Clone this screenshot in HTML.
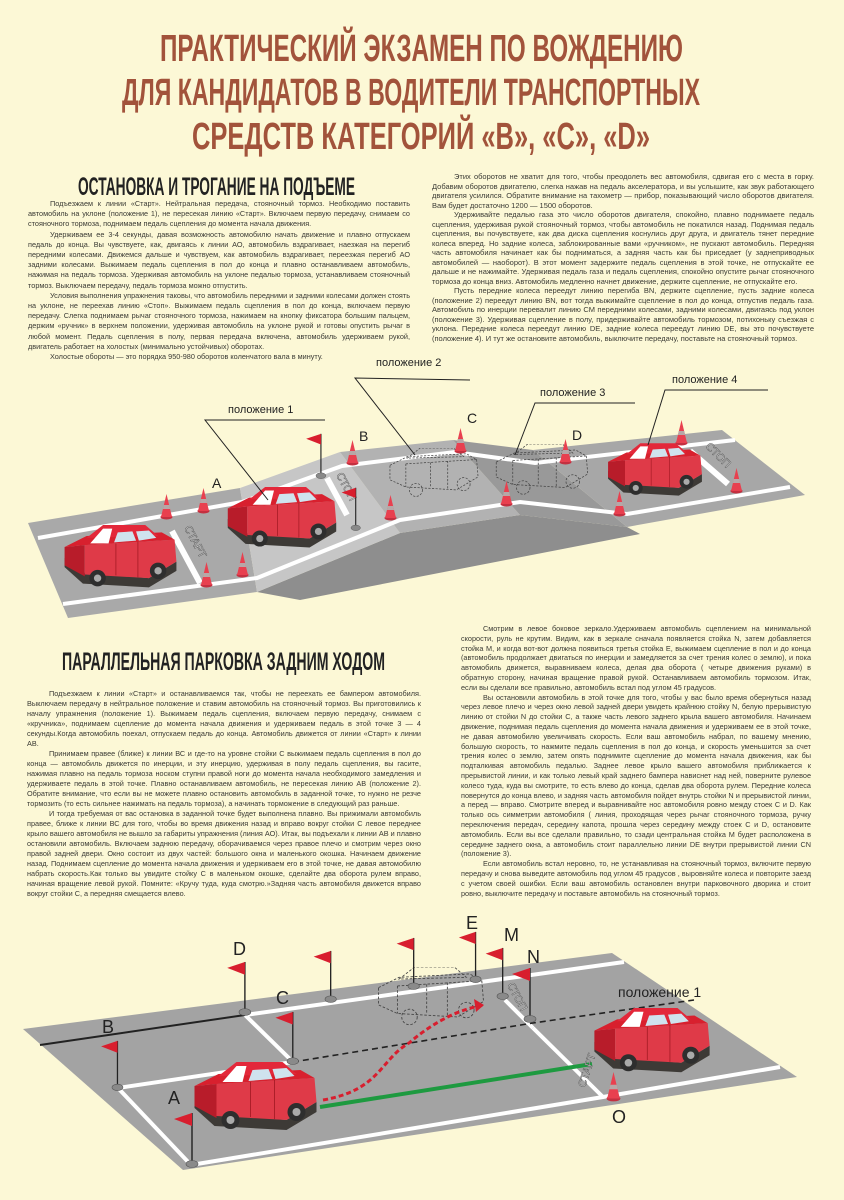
<!DOCTYPE html>
<html><head><meta charset="utf-8">
<style>
html,body{margin:0;padding:0;}
body{width:844px;height:1200px;background:#fcf8d6;position:relative;overflow:hidden;font-family:"Liberation Sans Narrow","Liberation Sans",sans-serif;color:#3a3a34;}
.t{position:absolute;font-size:7.3px;line-height:9.2px;text-align:justify;}
.t p{margin:0;text-indent:22px;}
svg{position:absolute;left:0;top:0;}
</style></head><body>
<svg width="844" height="1200" viewBox="0 0 844 1200">
<defs>
<symbol id="car" viewBox="0 0 130 72">
<polygon points="4,36 24,52 96,58 126,40 126,50 96,68 24,64 4,46" fill="#3d3a36"/>
<polygon points="4,24 26,22 26,56 4,44" fill="#b81c2a"/>
<polygon points="26,22 124,16 126,40 96,58 26,54" fill="#df3a48"/>
<polygon points="4,24 28,12 110,8 124,16 26,22" fill="#d8202e"/>
<polygon points="28,14 46,0 92,0 106,12" fill="#e3283a"/>
<polygon points="32,20 46,4 56,4 52,20" fill="#fff"/>
<polygon points="58,19 62,8 78,7 82,17" fill="#cfe3ee"/>
<polygon points="85,17 82,7 96,6 104,14" fill="#cfe3ee"/>
<line x1="60" y1="20" x2="60" y2="55" stroke="#a01822" stroke-width="0.8"/>
<line x1="84" y1="18" x2="84" y2="57" stroke="#a01822" stroke-width="0.8"/>
<circle cx="40" cy="58" r="9" fill="#2e2e2e"/><circle cx="40" cy="58" r="4" fill="#aaa"/>
<circle cx="106" cy="50" r="9" fill="#2e2e2e"/><circle cx="106" cy="50" r="4" fill="#aaa"/>
</symbol>
<symbol id="ghost" viewBox="0 0 130 72">
<g fill="none" stroke="#444" stroke-width="1" stroke-dasharray="3,2">
<polygon points="4,24 28,12 110,8 124,16 126,40 96,58 26,54 4,44"/>
<polygon points="28,14 46,0 92,0 106,12"/>
<line x1="26" y1="22" x2="124" y2="16"/><line x1="26" y1="22" x2="26" y2="54"/>
<line x1="60" y1="20" x2="60" y2="55"/><line x1="84" y1="18" x2="84" y2="57"/>
<circle cx="40" cy="58" r="9"/><circle cx="106" cy="50" r="9"/>
</g></symbol>
<symbol id="cone" viewBox="0 0 12 26">
<ellipse cx="6" cy="23" rx="6" ry="2.5" fill="#c43040"/>
<polygon points="6,0 11.5,23 0.5,23" fill="#e8404f"/>
<polygon points="3.2,11 8.8,11 9.6,15 2.4,15" fill="#b7a7a7"/>
</symbol>
<symbol id="flag" viewBox="0 0 26 56">
<line x1="19" y1="1" x2="19" y2="52" stroke="#222" stroke-width="1.4"/>
<polygon points="19,1 1,7 19,14" fill="#d81e2e"/>
<ellipse cx="19" cy="52" rx="6" ry="3.5" fill="#8a8a8a" stroke="#555" stroke-width="0.6"/>
</symbol>
</defs>

<!-- title -->
<g fill="#a2533b" font-family="Liberation Sans Narrow, Liberation Sans, sans-serif" font-size="38" font-weight="bold">
<text x="160" y="61" textLength="523" lengthAdjust="spacingAndGlyphs">ПРАКТИЧЕСКИЙ ЭКЗАМЕН ПО ВОЖДЕНИЮ</text>
<text x="122" y="105" textLength="578" lengthAdjust="spacingAndGlyphs">ДЛЯ КАНДИДАТОВ В ВОДИТЕЛИ ТРАНСПОРТНЫХ</text>
<text x="192" y="149" textLength="458" lengthAdjust="spacingAndGlyphs">СРЕДСТВ КАТЕГОРИЙ «B», «C», «D»</text>
</g>
<g fill="#222" font-family="Liberation Sans Narrow, Liberation Sans, sans-serif" font-size="25" font-weight="bold">
<text x="78" y="195" textLength="277" lengthAdjust="spacingAndGlyphs">ОСТАНОВКА И ТРОГАНИЕ НА ПОДЪЕМЕ</text>
<text x="62" y="670" textLength="323" lengthAdjust="spacingAndGlyphs">ПАРАЛЛЕЛЬНАЯ ПАРКОВКА ЗАДНИМ ХОДОМ</text>
</g>

<!-- top diagram -->
<polygon points="257,592 400,533 520,515 627,527 640,534 300,600" fill="#8e8e8e"/>
<polygon points="28,523 240,488 257,592 68,618" fill="#a9a9a9"/>
<polygon points="240,488 340,452 400,533 257,592" fill="#c6c6c6"/>
<polygon points="340,452 453,440 520,515 400,533" fill="#b2b2b2"/>
<polygon points="453,440 533,450 627,527 520,515" fill="#999"/>
<polygon points="533,450 722,430 805,495 627,527" fill="#a7a7a7"/>
<g fill="none" stroke="#fff" stroke-width="4">
<polyline points="38,538 242,502 342,466 455,452 535,463 735,440"/>
<polyline points="63,604 257,578 400,520 520,502 627,514 790,487"/>
</g>
<line x1="172" y1="531" x2="200" y2="583" stroke="#fff" stroke-width="6"/>
<line x1="327" y1="478" x2="347" y2="515" stroke="#fff" stroke-width="6"/>
<line x1="690" y1="451" x2="728" y2="484" stroke="#fff" stroke-width="6"/>
<g font-family="Liberation Sans, sans-serif" font-size="11" fill="#eee" stroke="#555" stroke-width="0.5">
<text transform="translate(184,528) rotate(62)">СТАРТ</text>
<text transform="translate(336,475) rotate(62)">СТОП</text>
<text transform="translate(705,447) rotate(45)">СТОП</text>
</g>
<use href="#ghost" x="380" y="448" width="108" height="52"/>
<use href="#ghost" x="493" y="444" width="98" height="54"/>
<use href="#car" x="58" y="525" width="125" height="66"/>
<use href="#car" x="220" y="487" width="124" height="64"/>
<use href="#car" x="605" y="443" width="100" height="56"/>
<use href="#cone" x="160" y="494" width="13" height="26"/>
<use href="#cone" x="197" y="488" width="13" height="26"/>
<use href="#cone" x="200" y="562" width="13" height="26"/>
<use href="#cone" x="236" y="552" width="13" height="26"/>
<use href="#cone" x="346" y="440" width="13" height="26"/>
<use href="#cone" x="384" y="495" width="13" height="26"/>
<use href="#cone" x="454" y="428" width="13" height="26"/>
<use href="#cone" x="500" y="481" width="13" height="26"/>
<use href="#cone" x="559" y="439" width="13" height="26"/>
<use href="#cone" x="613" y="491" width="13" height="26"/>
<use href="#cone" x="675" y="420" width="13" height="26"/>
<use href="#cone" x="730" y="468" width="13" height="26"/>
<use href="#flag" x="303" y="433" width="26" height="46"/>
<use href="#flag" x="338" y="487" width="26" height="44"/>
<g stroke="#222" stroke-width="1" fill="none">
<polyline points="325,420 205,420 268,500"/>
<polyline points="470,380 355,378 415,455"/>
<polyline points="635,403 535,403 515,455"/>
<polyline points="768,390 665,390 648,445"/>
</g>
<g font-family="Liberation Sans Narrow, Liberation Sans, sans-serif" font-size="11" fill="#222">
<text x="228" y="413">положение 1</text>
<text x="376" y="366">положение 2</text>
<text x="540" y="396">положение 3</text>
<text x="672" y="383">положение 4</text>
</g>
<g font-family="Liberation Sans, sans-serif" font-size="14" fill="#222">
<text x="212" y="488">A</text><text x="359" y="441">B</text><text x="467" y="423">C</text><text x="572" y="440">D</text>
</g>

<!-- bottom diagram -->
<polygon points="23,1029 612,953 797,1077 183,1170" fill="#a3a3a3"/>
<g stroke="#fff" stroke-width="4" fill="none">
<line x1="245" y1="1015" x2="624" y2="962"/>
<polyline points="293,1062 118,1088 191,1165 603,1097 780,1067"/>
<line x1="245" y1="1015" x2="293" y2="1062"/>
<line x1="533" y1="1028" x2="603" y2="1097"/>
<line x1="505" y1="1000" x2="533" y2="1028"/>
</g>
<line x1="40" y1="1045" x2="245" y2="1015" stroke="#222" stroke-width="2"/>
<polyline points="293,1062 533,1023 694,1000" fill="none" stroke="#222" stroke-width="1.6" stroke-dasharray="6,4"/>
<line x1="320" y1="1107" x2="592" y2="1064" stroke="#1e9a40" stroke-width="4"/>
<g font-family="Liberation Sans, sans-serif" font-size="11" fill="#eee" stroke="#555" stroke-width="0.5">
<text transform="translate(585,1088) rotate(-72)">СТАРТ</text>
<text transform="translate(507,985) rotate(62)">СТОП</text>
</g>
<use href="#ghost" x="371" y="967" width="120" height="62"/>
<path d="M323,1100 C380,1090 380,1060 409,1043 C430,1025 455,1010 484,1005" fill="none" stroke="#d81e2e" stroke-width="3" stroke-dasharray="5,3"/>
<polygon points="484,1005 474,999 476,1012" fill="#d81e2e"/>
<use href="#car" x="188" y="1062" width="135" height="72"/>
<use href="#car" x="587" y="1008" width="130" height="68"/>
<use href="#cone" x="606" y="1072" width="15" height="30"/>
<use href="#flag" x="173" y="1112" width="26" height="56"/>
<use href="#flag" x="99" y="1040" width="26" height="51"/>
<use href="#flag" x="226" y="961" width="26" height="55"/>
<use href="#flag" x="274" y="1011" width="26" height="54"/>
<use href="#flag" x="312" y="950" width="26" height="53"/>
<use href="#flag" x="395" y="937" width="26" height="53"/>
<use href="#flag" x="457" y="931" width="26" height="52"/>
<use href="#flag" x="484" y="947" width="26" height="53"/>
<use href="#flag" x="511" y="967" width="26" height="56"/>
<g font-family="Liberation Sans, sans-serif" font-size="18" fill="#222">
<text x="233" y="955">D</text><text x="276" y="1004">C</text><text x="102" y="1033">B</text>
<text x="168" y="1104">A</text><text x="466" y="929">E</text><text x="504" y="941">M</text>
<text x="527" y="963">N</text><text x="612" y="1123">O</text>
</g>
<text x="618" y="997" font-family="Liberation Sans Narrow, Liberation Sans, sans-serif" font-size="14" fill="#222">положение 1</text>
</svg>

<div class="t" style="left:28px;top:199px;width:382px;line-height:10.2px;">
<p>Подъезжаем к линии «Старт». Нейтральная передача, стояночный тормоз. Необходимо поставить автомобиль на уклоне (положение 1), не пересекая линию «Старт». Включаем первую передачу, снимаем со стояночного тормоза, поднимаем педаль сцепления до момента начала движения.</p>
<p>Удерживаем ее 3-4 секунды, давая возможность автомобилю начать движение и плавно отпускаем педаль до конца. Вы чувствуете, как, двигаясь к линии АО, автомобиль вздрагивает, наезжая на перегиб передними колесами. Движемся дальше и чувствуем, как автомобиль вздрагивает, переезжая перегиб АО задними колесами. Выжимаем педаль сцепления в пол до конца и плавно останавливаем автомобиль, нажимая на педаль тормоза. Удерживая автомобиль на уклоне педалью тормоза, устанавливаем стояночный тормоз. Выключаем передачу, педаль тормоза можно отпустить.</p>
<p>Условия выполнения упражнения таковы, что автомобиль передними и задними колесами должен стоять на уклоне, не переехав линию «Стоп». Выжимаем педаль сцепления в пол до конца, включаем первую передачу. Слегка поднимаем рычаг стояночного тормоза, нажимаем на кнопку фиксатора большим пальцем, держим «ручник» в верхнем положении, удерживая автомобиль на уклоне рукой и готовы опустить рычаг в любой момент. Педаль сцепления в полу, первая передача включена, автомобиль удерживаем рукой, двигатель работает на холостых (минимально устойчивых) оборотах.</p>
<p>Холостые обороты — это порядка 950-980 оборотов коленчатого вала в минуту.</p>
</div>

<div class="t" style="left:432px;top:172px;width:382px;font-size:7.5px;line-height:9.5px;">
<p>Этих оборотов не хватит для того, чтобы преодолеть вес автомобиля, сдвигая его с места в горку. Добавим оборотов двигателю, слегка нажав на педаль акселератора, и вы услышите, как звук работающего двигателя усилился. Обратите внимание на тахометр — прибор, показывающий число оборотов двигателя. Вам будет достаточно 1200 — 1500 оборотов.</p>
<p>Удерживайте педалью газа это число оборотов двигателя, спокойно, плавно поднимаете педаль сцепления, удерживая рукой стояночный тормоз, чтобы автомобиль не покатился назад. Поднимая педаль сцепления, вы почувствуете, как два диска сцепления коснулись друг друга, и двигатель тянет передние колеса вперед. Но задние колеса, заблокированные вами «ручником», не пускают автомобиль. Передняя часть автомобиля начинает как бы подниматься, а задняя часть как бы приседает (у заднеприводных автомобилей — наоборот). В этот момент задержите педаль сцепления в этой точке, не отпускайте ее дальше и не нажимайте. Удерживая педаль газа и педаль сцепления, спокойно опустите рычаг стояночного тормоза до конца вниз. Автомобиль медленно начнет движение, держите сцепление, не отпускайте его.</p>
<p>Пусть передние колеса переедут линию перегиба BN, держите сцепление, пусть задние колеса (положение 2) переедут линию BN, вот тогда выжимайте сцепление в пол до конца, отпустив педаль газа. Автомобиль по инерции перевалит линию CM передними колесами, задними колесами, двигаясь под уклон (положение 3). Удерживая сцепление в полу, придерживайте автомобиль тормозом, потихоньку съезжая с уклона. Передние колеса переедут линию DE, задние колеса переедут линию DE, вы это почувствуете (положение 4). И тут же остановите автомобиль, выключите передачу, поставьте на стояночный тормоз.</p>
</div>

<div class="t" style="left:27px;top:689px;width:394px;line-height:10px;">
<p>Подъезжаем к линии «Старт» и останавливаемся так, чтобы не переехать ее бампером автомобиля. Выключаем передачу в нейтральное положение и ставим автомобиль на стояночный тормоз. Вы приготовились к началу упражнения (положение 1). Выжимаем педаль сцепления, включаем первую передачу, снимаем с «кручника», поднимаем сцепление до момента начала движения и удерживаем педаль в этой точке 3 — 4 секунды.Когда автомобиль поехал, отпускаем педаль до конца. Автомобиль движется от линии «Старт» к линии АВ.</p>
<p>Принимаем правее (ближе) к линии ВС и где-то на уровне стойки С выжимаем педаль сцепления в пол до конца — автомобиль движется по инерции, и эту инерцию, удерживая в полу педаль сцепления, вы гасите, нажимая плавно на педаль тормоза носком ступни правой ноги до момента начала необходимого замедления и удерживаете педаль в этой точке. Плавно останавливаем автомобиль, не пересекая линию АВ (положение 2). Обратите внимание, что если вы не можете плавно остановить автомобиль в заданной точке, то нужно не резче тормозить (то есть сильнее нажимать на педаль тормоза), а начинать торможение в следующий раз раньше.</p>
<p>И тогда требуемая от вас остановка в заданной точке будет выполнена плавно. Вы прижимали автомобиль правее, ближе к линии ВС для того, чтобы во время движения назад и вправо вокруг стойки С левое переднее крыло вашего автомобиля не вышло за габариты упражнения (линия АО). Итак, вы подъехали к линии АВ и плавно остановили автомобиль. Включаем заднюю передачу, оборачиваемся через правое плечо и смотрим через окно правой задней двери. Окно состоит из двух частей: большого окна и маленького окошка. Начинаем движение назад. Поднимаем сцепление до момента начала движения и удерживаем его в этой точке, не давая автомобилю набрать скорость.Как только вы увидите стойку С в маленьком окошке, сделайте два оборота рулем вправо, начиная вращение левой рукой. Помните: «Кручу туда, куда смотрю.»Задняя часть автомобиля движется вправо вокруг стойки С, а передняя смещается влево.</p>
</div>

<div class="t" style="left:461px;top:624px;width:350px;line-height:9.8px;">
<p>Смотрим в левое боковое зеркало.Удерживаем автомобиль сцеплением на минимальной скорости, руль не крутим. Видим, как в зеркале сначала появляется стойка N, затем добавляется стойка М, и когда вот-вот должна появиться третья стойка Е, выжимаем сцепление в пол и до конца (автомобиль продолжает двигаться по инерции и замедляется за счет трения колес о землю), и пока автомобиль движется, выравниваем колеса, делая два оборота ( четыре движения руками) в обратную сторону, начиная вращение правой рукой. Останавливаем автомобиль тормозом. Итак, если вы сделали все правильно, автомобиль встал под углом 45 градусов.</p>
<p>Вы остановили автомобиль в этой точке для того, чтобы у вас было время обернуться назад через левое плечо и через окно левой задней двери увидеть крайнюю стойку N, белую прерывистую линию от стойки N до стойки С, а также часть левого заднего крыла вашего автомобиля. Начинаем движение, поднимая педаль сцепления до момента начала движения и удерживаем ее в этой точке, не давая автомобилю увеличивать скорость. Если ваш автомобиль набрал, по вашему мнению, большую скорость, то нажмите педаль сцепления в пол до конца, и скорость уменьшится за счет трения колес о землю, затем опять поднимите сцепление до момента начала движения, как бы подталкивая автомобиль педалью. Заднее левое крыло вашего автомобиля приближается к прерывистой линии, и как только левый край заднего бампера нависнет над ней, поверните рулевое колесо туда, куда вы смотрите, то есть влево до конца, сделав два оборота рулем. Передние колеса повернутся до конца влево, и задняя часть автомобиля пойдет внутрь стойки N и прерывистой линии, а перед — вправо. Смотрите вперед и выравнивайте нос автомобиля ровно между стоек С и D. Как только ось симметрии автомобиля ( линия, проходящая через рычаг стояночного тормоза, ручку переключения передач, середину капота, прошла через середину между стоек С и D, остановите автомобиль. Если вы все сделали правильно, то сзади центральная стойка М будет расположена в середине заднего окна, а автомобиль стоит параллельно линии DE внутри прерывистой линии CN (положение 3).</p>
<p>Если автомобиль встал неровно, то, не устанавливая на стояночный тормоз, включите первую передачу и снова выведите автомобиль под углом 45 градусов , выровняйте колеса и повторите заезд с учетом своей ошибки. Если ваш автомобиль остановлен внутри парковочного дворика и стоит ровно, выключите передачу и поставьте автомобиль на стояночный тормоз.</p>
</div>
</body></html>
